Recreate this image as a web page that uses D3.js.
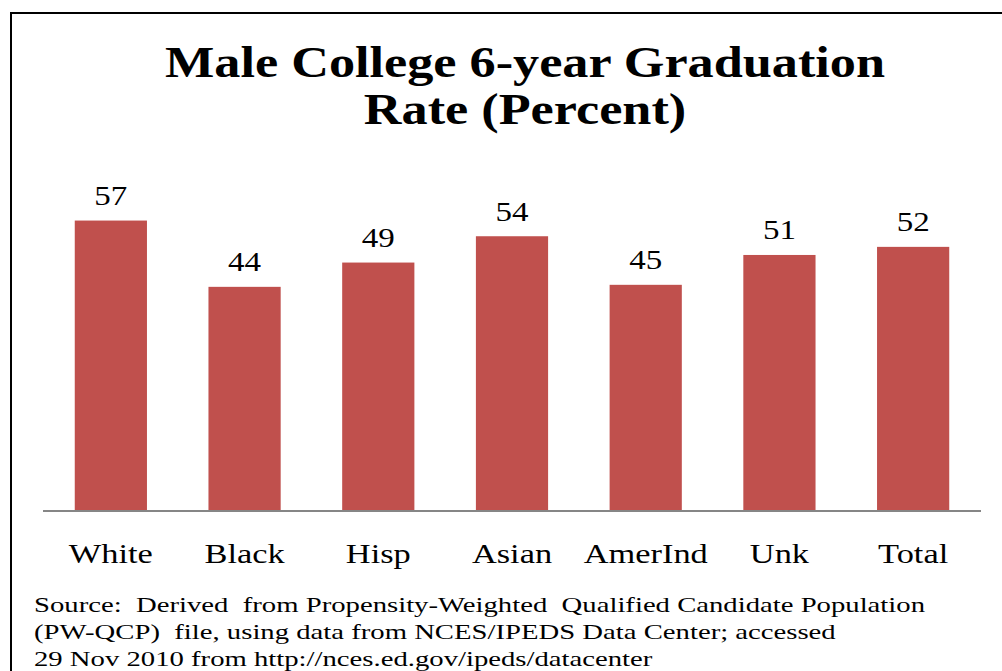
<!DOCTYPE html>
<html><head><meta charset="utf-8">
<script src="https://cdn.jsdelivr.net/npm/d3@7"></script>
<style>body{margin:0;background:#fff;} svg{display:block;}</style>
</head><body>
<script>
const categories = ["White","Black","Hisp","Asian","AmerInd","Unk","Total"];
const values = [57.4,44.3,49.1,54.3,44.7,50.6,52.2];
const titleLines = ["Male College 6-year Graduation","Rate (Percent)"];
const sourceLines = [
 "Source:  Derived  from Propensity-Weighted  Qualified Candidate Population",
 "(PW-QCP)  file, using data from NCES/IPEDS Data Center; accessed",
 "29 Nov 2010 from http://nces.ed.gov/ipeds/datacenter"
];
const W=1002,H=671;
const svg=d3.select("body").append("svg").attr("width",W).attr("height",H);
svg.append("rect").attr("x",11).attr("y",13).attr("width",1000).attr("height",700)
  .attr("fill","none").attr("stroke","#000").attr("stroke-width",2);
const font="'Liberation Serif','Times New Roman',serif";

// stretch a group of texts horizontally so that the first reaches a target width
function stretch(sel, targetFirst){
  const nodes=sel.nodes();
  const f=targetFirst/nodes[0].getComputedTextLength();
  nodes.forEach(n=>{
    const w=n.getComputedTextLength();
    n.setAttribute("textLength",w*f);
    n.setAttribute("lengthAdjust","spacingAndGlyphs");
  });
}

const title=svg.selectAll("text.title").data(titleLines).join("text").attr("class","title")
  .attr("x",525).attr("y",(d,i)=>77+i*47).attr("text-anchor","middle")
  .attr("font-family",font).attr("font-weight","bold").attr("font-size",44).text(d=>d);
stretch(title,720);

const x=d3.scaleBand().domain(categories).range([44,980]).paddingInner(0.46).paddingOuter(0.23);
const y=d3.scaleLinear().domain([0,60]).range([511,511-303.6]);
svg.selectAll("rect.bar").data(values).join("rect").attr("class","bar")
  .attr("x",(d,i)=>x(categories[i])).attr("width",x.bandwidth())
  .attr("y",d=>y(d)).attr("height",d=>y(0)-y(d)).attr("fill","#C0504D");
const fmt=d3.format(".0f");
const vals=svg.selectAll("text.val").data(values).join("text").attr("class","val")
  .attr("x",(d,i)=>x(categories[i])+x.bandwidth()/2).attr("y",d=>y(d)-15.5)
  .attr("text-anchor","middle").attr("font-family",font).attr("font-size",28).attr("fill","#000").text(d=>fmt(d));
stretch(vals,33);

const ax=svg.append("g").attr("transform","translate(0,511)")
  .call(d3.axisBottom(x).tickSize(0).tickPadding(0));
ax.select(".domain").attr("stroke","#868686").attr("stroke-width",2).attr("d","M43,0H981");
const ticks=ax.selectAll(".tick text").attr("font-family",font).attr("font-size",27).attr("fill","#000")
  .attr("dy",null).attr("y",52);
stretch(ticks,84);

const src=svg.selectAll("text.src").data(sourceLines).join("text").attr("class","src")
  .attr("x",34).attr("y",(d,i)=>612+i*27).attr("font-family",font).attr("font-size",21)
  .style("white-space","pre").text(d=>d);
stretch(src,891);
</script>
</body></html>
